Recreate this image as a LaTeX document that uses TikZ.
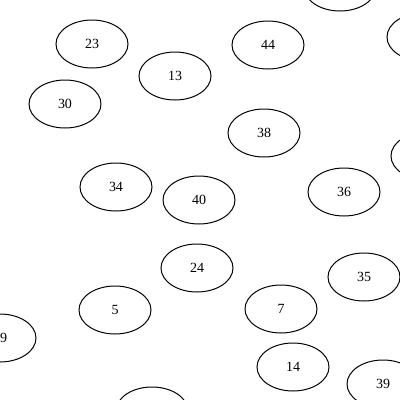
\documentclass[tikz,border=0pt]{standalone}
\usepackage{fontspec}
\setmainfont{Liberation Serif}
\usetikzlibrary{shapes.geometric}
\begin{document}
\begin{tikzpicture}[x=1pt,y=-1pt,
  nd/.style={draw,ellipse,line width=1pt,minimum width=72pt,minimum height=48pt,inner sep=0pt,font=\fontsize{14}{16}\selectfont}]
\useasboundingbox (0,0) rectangle (400,400);
\node[nd] (n23) at (92,44) {23};
\node[nd] (n13) at (175,76) {13};
\node[nd] (n44) at (268,45) {44};
\node[nd] (n30) at (65,104) {30};
\node[nd] (n38) at (264,133) {38};
\node[nd] (n34) at (116,187) {34};
\node[nd] (n40) at (199,200) {40};
\node[nd] (n36) at (344,192) {36};
\node[nd] (n24) at (197,268) {24};
\node[nd] (n35) at (364,277) {35};
\node[nd] (n5) at (115,310) {5};
\node[nd] (n7) at (281,309) {7};
\node[nd] (n9) at (0,338) {\phantom{1}9};
\node[nd] (n14) at (293,367) {14};
\node[nd] (n39) at (383,384) {39};
\node[nd] (ntop) at (340,-13) {};
\node[nd] (nr1) at (423,37) {};
\node[nd] (nr2) at (427,156) {};
\node[nd] (nbot) at (152,411) {};
\end{tikzpicture}
\end{document}
